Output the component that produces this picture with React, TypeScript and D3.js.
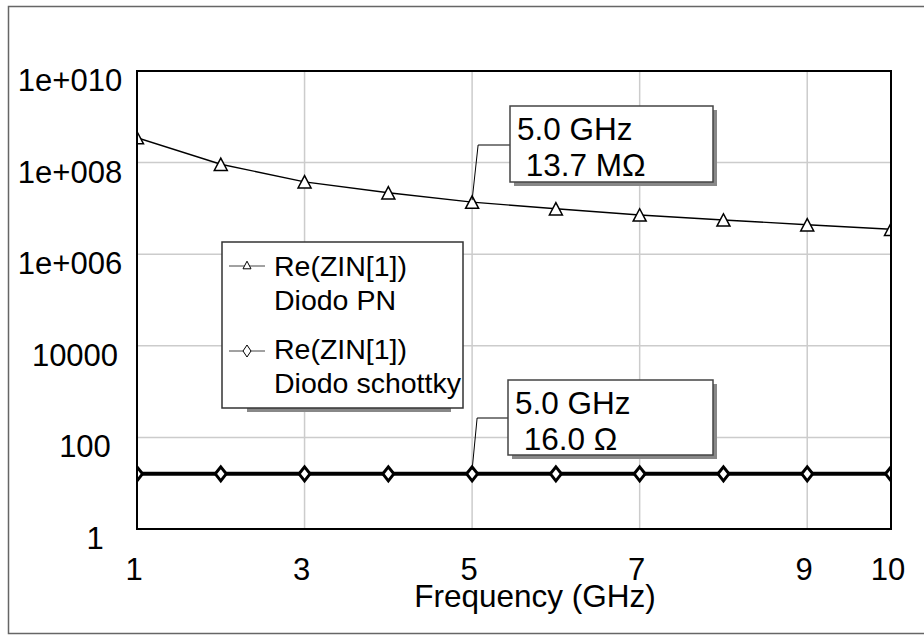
import React from "react";
import * as d3 from "d3";

const frequencies = [1, 2, 3, 4, 5, 6, 7, 8, 9, 10];
const pnValues = [3.5e8, 9.2e7, 3.8e7, 2.2e7, 1.37e7, 9.8e6, 7.2e6, 5.6e6, 4.4e6, 3.5e6];
const schottkyValues = [16, 16, 16, 16, 16, 16, 16, 16, 16, 16];
const xTicks = [1, 3, 5, 7, 9, 10];
const xGrid = [3, 5, 7, 9];
const yTicks = [1, 100, 1e4, 1e6, 1e8, 1e10];
const yTickLabels = ["1", "100", "10000", "1e+006", "1e+008", "1e+010"];
const yGrid = [100, 1e4, 1e6, 1e8];
const legendLabels = [
  ["Re(ZIN[1])", "Diodo PN"],
  ["Re(ZIN[1])", "Diodo schottky"],
];
const markerFreq = 5;
const annotations = [
  ["5.0 GHz", " 13.7 M\u03A9"],
  ["5.0 GHz", " 16.0 \u03A9"],
];

const W = 924;
const H = 635;
const FONT = "'Liberation Sans', Arial, sans-serif";
const plot = { left: 137, right: 891, top: 71, bottom: 529 };

export default function App() {
  const x = d3.scaleLinear().domain([1, 10]).range([plot.left, plot.right]);
  const y = d3.scaleLog().domain([1, 1e10]).range([plot.bottom, plot.top]);
  const line = d3
    .line<number>()
    .x((_, i) => x(frequencies[i]))
    .y((v) => y(v));

  const tri = (cx: number, cy: number, s: number) => {
    const h = s * 0.95;
    return `M${cx},${cy - h / 2} L${cx + s / 2},${cy + h / 2} L${cx - s / 2},${cy + h / 2} Z`;
  };
  const dia = (cx: number, cy: number, w: number, h: number) =>
    `M${cx},${cy - h / 2} L${cx + w / 2},${cy} L${cx},${cy + h / 2} L${cx - w / 2},${cy} Z`;

  const pn5 = pnValues[frequencies.indexOf(markerFreq)];
  const sc5 = schottkyValues[frequencies.indexOf(markerFreq)];
  const ann = [
    { box: { x: 510, y: 106, w: 203, h: 76 }, px: x(markerFreq), py: y(pn5) - 2, ky: 145, kx: x(markerFreq) + 6 },
    { box: { x: 508, y: 380, w: 205, h: 75 }, px: x(markerFreq), py: y(sc5) - 4, ky: 418, kx: x(markerFreq) + 5 },
  ];

  return (
    <svg
      width={W}
      height={H}
      style={{ position: "absolute", left: 0, top: 0, background: "#fff" }}
      fontFamily={FONT}
    >
      <defs>
        <clipPath id="plotclip">
          <rect x={plot.left} y={plot.top} width={plot.right - plot.left} height={plot.bottom - plot.top} />
        </clipPath>
      </defs>
      <rect x={0} y={0} width={W} height={H} fill="#fff" />
      {/* outer frame */}
      <rect x={8.5} y={6.5} width={W} height={627} fill="none" stroke="#666" strokeWidth={1.5} />

      {/* grid */}
      {yGrid.map((v) => (
        <line key={"gy" + v} x1={plot.left} x2={plot.right} y1={y(v)} y2={y(v)} stroke="#cccccc" strokeWidth={1.5} />
      ))}
      {xGrid.map((v) => (
        <line key={"gx" + v} x1={x(v)} x2={x(v)} y1={plot.top} y2={plot.bottom} stroke="#cccccc" strokeWidth={1.5} />
      ))}

      {/* y tick labels */}
      {yTicks.map((v, i) => {
        const lab = yTickLabels[i];
        return (
          <text key={"yt" + v} x={70 + 5 * (6 - lab.length)} y={y(v) + 20} textAnchor="middle" fontSize={31} fill="#000">
            {lab}
          </text>
        );
      })}
      {/* x tick labels */}
      {xTicks.map((v) => (
        <text key={"xt" + v} x={x(v) - 3} y={580} textAnchor="middle" fontSize={31} fill="#000">
          {v}
        </text>
      ))}
      <text x={(plot.left + plot.right) / 2 + 21} y={607} textAnchor="middle" fontSize={31.5} fill="#000">
        Frequency (GHz)
      </text>

      {/* series */}
      <g clipPath="url(#plotclip)">
        <path d={line(pnValues) || ""} fill="none" stroke="#000" strokeWidth={1.4} />
        <path d={line(schottkyValues) || ""} fill="none" stroke="#000" strokeWidth={4} />
        {pnValues.map((v, i) => (
          <path key={"pt" + i} d={tri(x(frequencies[i]), y(v), 13)} fill="#fff" stroke="#000" strokeWidth={1.5} />
        ))}
        {schottkyValues.map((v, i) => (
          <path key={"sd" + i} d={dia(x(frequencies[i]), y(v), 11, 14)} fill="#fff" stroke="#000" strokeWidth={3} />
        ))}
      </g>

      {/* plot frame */}
      <rect x={plot.left} y={plot.top} width={plot.right - plot.left} height={plot.bottom - plot.top} fill="none" stroke="#000" strokeWidth={2} />

      {/* legend */}
      <rect x={247} y={244} width={204} height={168} fill="#888" />
      <rect x={222} y={242} width={241} height={166} fill="#fff" stroke="#333" strokeWidth={1.5} />
      <line x1={229} x2={265} y1={266} y2={266} stroke="#444" strokeWidth={1} />
      <path d={tri(247, 265, 8)} fill="#fff" stroke="#000" strokeWidth={1} />
      <line x1={229} x2={265} y1={351} y2={351} stroke="#444" strokeWidth={1} />
      <path d={dia(247, 351, 8, 12)} fill="#fff" stroke="#000" strokeWidth={1} />
      {legendLabels.map((pair, i) => (
        <g key={"lg" + i}>
          <text x={274} y={276 + i * 83} fontSize={28.5} fill="#000">{pair[0]}</text>
          <text x={274} y={310 + i * 83} fontSize={28.5} fill="#000">{pair[1]}</text>
        </g>
      ))}

      {/* annotations */}
      {ann.map((a, i) => (
        <g key={"an" + i}>
          <polyline
            points={`${a.px},${a.py} ${a.kx},${a.ky} ${a.box.x},${a.ky}`}
            fill="none"
            stroke="#000"
            strokeWidth={1}
          />
          <rect x={a.box.x + 4} y={a.box.y + 4} width={a.box.w} height={a.box.h} fill="#888" />
          <rect x={a.box.x} y={a.box.y} width={a.box.w} height={a.box.h} fill="#fff" stroke="#444" strokeWidth={1.5} />
          <text x={a.box.x + 7} y={a.box.y + 34} fontSize={31.5} fill="#000" style={{ whiteSpace: "pre" }}>
            {annotations[i][0]}
          </text>
          <text x={a.box.x + 7} y={a.box.y + 70} fontSize={31.5} fill="#000" style={{ whiteSpace: "pre" }} xmlSpace="preserve">
            {annotations[i][1]}
          </text>
        </g>
      ))}
    </svg>
  );
}
